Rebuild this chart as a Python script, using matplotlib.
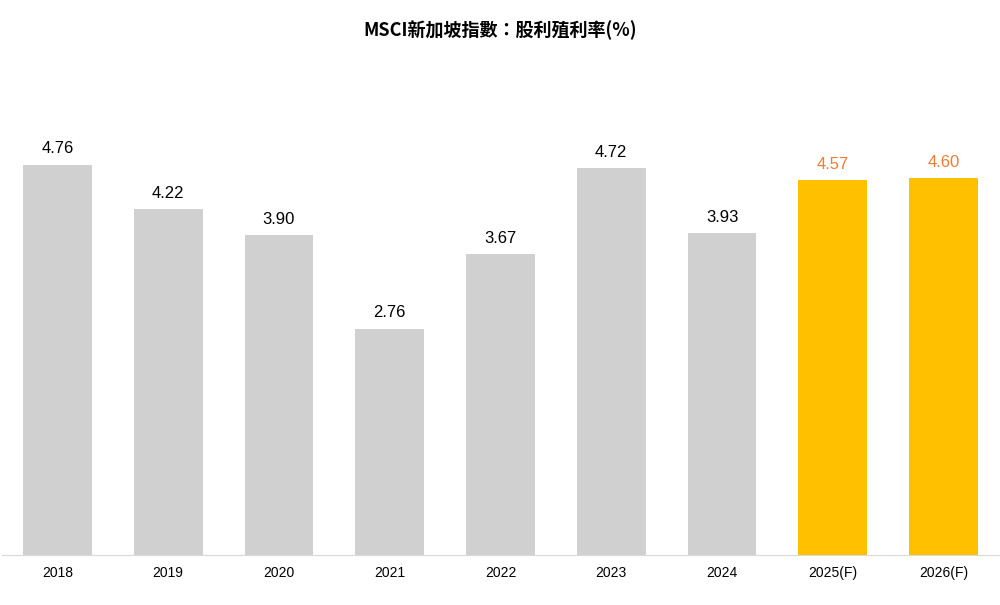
import matplotlib.pyplot as plt

plt.rcParams["font.family"] = ["Liberation Sans", "Noto Sans CJK TC"]

years = ["2018", "2019", "2020", "2021", "2022", "2023", "2024", "2025(F)", "2026(F)"]
yields = [4.76, 4.22, 3.90, 2.76, 3.67, 4.72, 3.93, 4.57, 4.60]
forecast = [False] * 7 + [True] * 2

fig = plt.figure(figsize=(10, 6.05), dpi=100)
ax = fig.add_axes([0.002, 1 - 555 / 605, 0.997, (555 - 63) / 605])

x = range(len(years))
colors = ["#FFC000" if f else "#D0D0D0" for f in forecast]
ax.bar(x, yields, width=0.62, color=colors)
for i, v in enumerate(yields):
    ax.text(i, v + 0.1, f"{v:.2f}", ha="center", va="bottom", fontsize=12,
            color="#ED7D31" if forecast[i] else "black")

ax.set_xlim(-0.5, len(years) - 0.5)
ax.set_ylim(0, 6.0)
ax.set_xticks(list(x))
ax.set_xticklabels(years, fontsize=10)
ax.tick_params(axis="x", length=0, pad=8)
ax.set_yticks([])
for s in ["top", "right", "left"]:
    ax.spines[s].set_visible(False)
ax.spines["bottom"].set_color("#D9D9D9")

fig.text(0.5, 1 - 30 / 605, "MSCI新加坡指數：股利殖利率(%)", ha="center", va="center",
         fontsize=13, fontweight="bold", family="Noto Sans CJK TC")

fig.savefig("out.png")
